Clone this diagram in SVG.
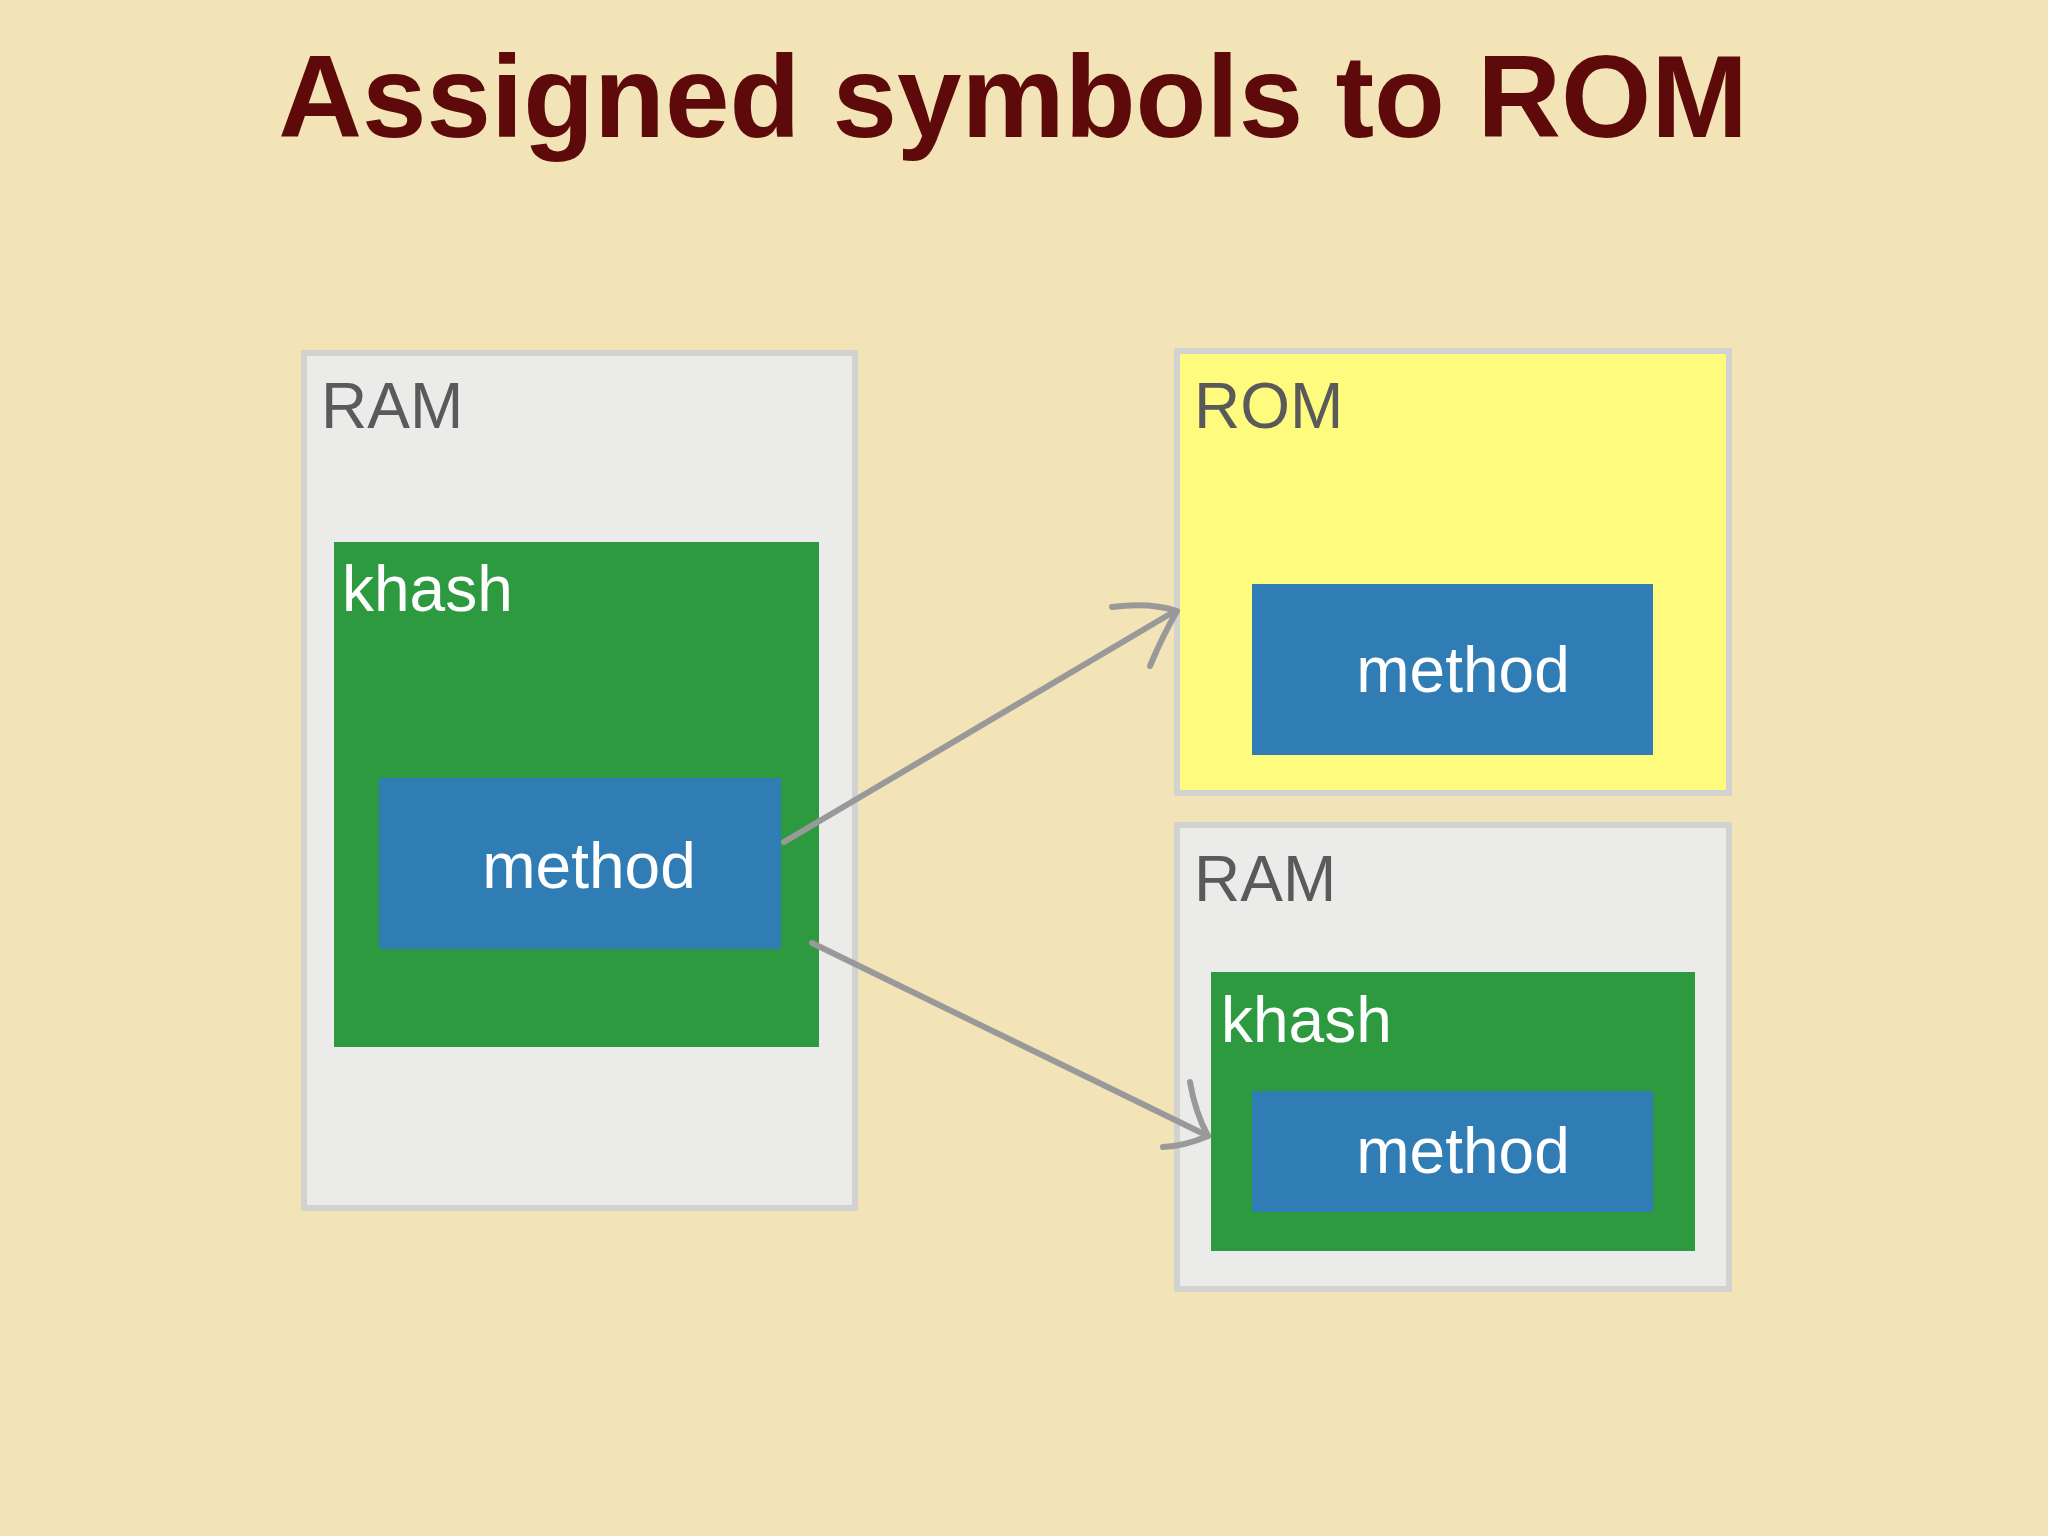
<svg xmlns="http://www.w3.org/2000/svg" width="2048" height="1536" viewBox="0 0 2048 1536">
<style>
.box{fill:#ebebea;stroke:#d2d2d0;stroke-width:6}
.green{fill:#2e9a40}
.blue{fill:#2f7db4}
.lbl{font-family:"Liberation Sans",Arial,sans-serif;font-size:64px;fill:#5a5a5a}
.wt{font-family:"Liberation Sans",Arial,sans-serif;font-size:64px;fill:#ffffff}
.arr{fill:none;stroke:#999999;stroke-width:6;stroke-linecap:round;stroke-linejoin:round}
</style>
<rect width="2048" height="1536" fill="#f2e4b6"/>
<text x="1013" y="137" text-anchor="middle" font-family="Liberation Sans,Arial,sans-serif" font-weight="bold" font-size="116" fill="#5e0a0a">Assigned symbols to ROM</text>
<g id="ram1">
<rect class="box" x="304" y="353" width="551" height="855"/>
<text class="lbl" x="321" y="428">RAM</text>
</g>
<g id="khash1">
<rect class="green" x="334" y="542" width="485" height="505"/>
<text class="wt" x="342" y="611">khash</text>
</g>
<g id="method1">
<rect class="blue" x="379" y="778" width="402" height="171"/>
<text class="wt" x="589" y="888" text-anchor="middle">method</text>
</g>
<g id="rom">
<rect x="1177" y="351" width="552" height="442" fill="#fefb7e" stroke="#d2d2d0" stroke-width="6"/>
<text class="lbl" x="1194" y="428">ROM</text>
</g>
<g id="method2">
<rect class="blue" x="1252" y="584" width="401" height="171"/>
<text class="wt" x="1463" y="692" text-anchor="middle">method</text>
</g>
<g id="ram2">
<rect class="box" x="1177" y="825" width="552" height="464"/>
<text class="lbl" x="1194" y="901">RAM</text>
</g>
<g id="khash2">
<rect class="green" x="1211" y="972" width="484" height="279"/>
<text class="wt" x="1221" y="1042">khash</text>
</g>
<g id="method3">
<rect class="blue" x="1252" y="1091" width="401" height="121"/>
<text class="wt" x="1463" y="1173" text-anchor="middle">method</text>
</g>
<g id="connectors">
<path class="arr" d="M784 842 L1175 611"/>
<path class="arr" d="M1112 607 Q1150 602 1177 611 Q1163 635 1150 666"/>
<path class="arr" d="M812 943 L1208 1136"/>
<path class="arr" d="M1190 1082 Q1195 1112 1208 1136 Q1185 1146 1163 1147"/>
</g>
</svg>
